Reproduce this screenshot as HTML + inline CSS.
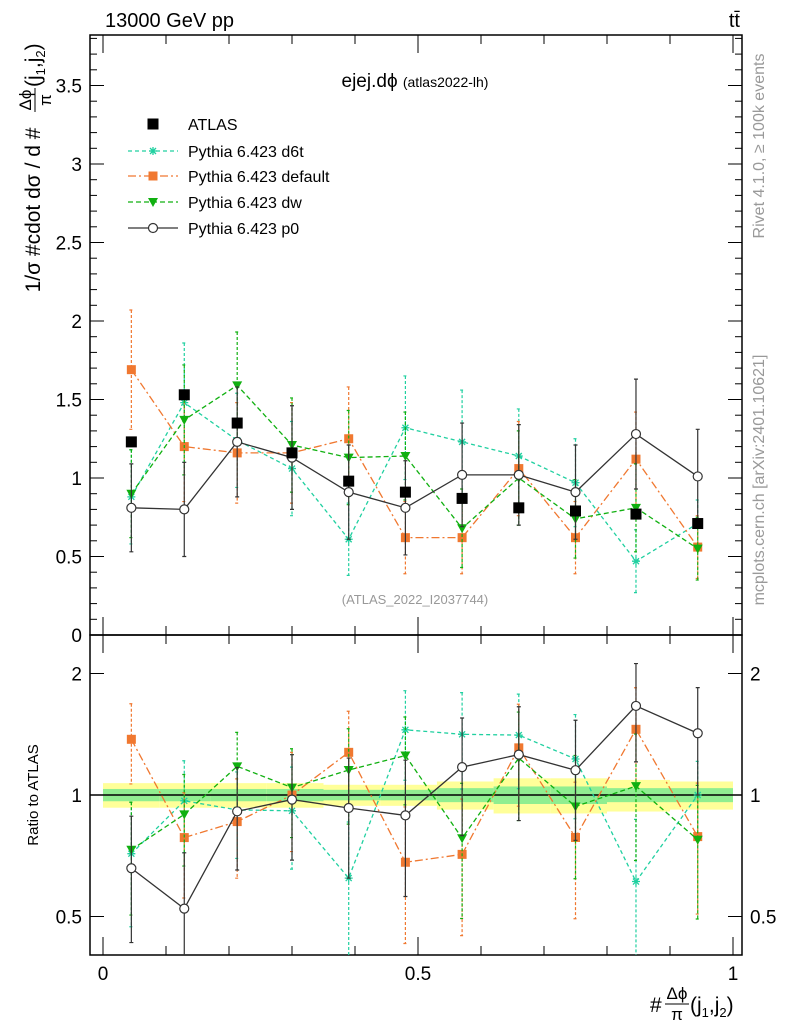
<!DOCTYPE html>
<html><head><meta charset="utf-8"><style>
body{margin:0;background:#fff;font-family:"Liberation Sans",sans-serif}
svg text{font-family:"Liberation Sans","DejaVu Sans",sans-serif}
</style></head><body>
<svg id="c" width="786" height="1024" xmlns="http://www.w3.org/2000/svg">
<defs>
<clipPath id="cm"><rect x="90" y="35" width="652" height="600"/></clipPath>
<clipPath id="cr"><rect x="90" y="635" width="652" height="320"/></clipPath>
</defs>
<text x="105" y="27" font-size="20">13000 GeV pp</text>
<text x="740" y="27" font-size="20" text-anchor="end">tt̄</text>
<text x="415" y="87" font-size="19" text-anchor="middle">ejej.dϕ <tspan font-size="14">(atlas2022-lh)</tspan></text>
<text x="415" y="604" font-size="13" fill="#999" text-anchor="middle">(ATLAS_2022_I2037744)</text>
<text transform="translate(764,146) rotate(-90)" font-size="16" fill="#999" text-anchor="middle">Rivet 4.1.0, ≥ 100k events</text>
<text transform="translate(764,480) rotate(-90)" font-size="16" fill="#999" text-anchor="middle">mcplots.cern.ch [arXiv:2401.10621]</text>
<g transform="translate(40,95) rotate(-90)">
<text x="-115" y="0" font-size="21" text-anchor="middle">1/σ #cdot dσ / d #</text>
<text x="-5" y="-9" font-size="17" text-anchor="middle">Δϕ</text>
<line x1="-17" x2="7" y1="-5" y2="-5" stroke="#000" stroke-width="1"/>
<text x="-5" y="11" font-size="17" text-anchor="middle">π</text>
<text x="8" y="0" font-size="21">(j<tspan font-size="13" dy="5">1</tspan><tspan dy="-5">,j</tspan><tspan font-size="13" dy="5">2</tspan><tspan dy="-5">)</tspan></text>
</g>
<text transform="translate(38,795) rotate(-90)" font-size="15" text-anchor="middle">Ratio to ATLAS</text>
<g>
<text x="650" y="1012" font-size="21">#</text>
<text x="677" y="999" font-size="17" text-anchor="middle">Δϕ</text>
<line x1="665" x2="689" y1="1004" y2="1004" stroke="#000" stroke-width="1"/>
<text x="677" y="1020" font-size="17" text-anchor="middle">π</text>
<text x="690" y="1012" font-size="21">(j<tspan font-size="13" dy="5">1</tspan><tspan dy="-5">,j</tspan><tspan font-size="13" dy="5">2</tspan><tspan dy="-5">)</tspan></text>
</g>
<g id="bands" clip-path="url(#cr)"></g>
<g id="axes"></g>
<g id="main" clip-path="url(#cm)"></g>
<g id="ratio" clip-path="url(#cr)"></g>
<g id="legend"></g>
</svg>
<script>
const xs=[0.045,0.129,0.213,0.30,0.39,0.48,0.57,0.66,0.75,0.846,0.944];
const edges=[0,0.09,0.17,0.26,0.35,0.44,0.53,0.62,0.71,0.80,0.90,1.0];
const atlas=[1.23,1.53,1.35,1.16,0.98,0.91,0.87,0.81,0.79,0.77,0.71];
const d6t=[0.88,1.48,1.24,1.06,0.61,1.32,1.23,1.14,0.97,0.47,0.71];
const d6tErr=[0.30,0.38,0.30,0.30,0.23,0.33,0.33,0.30,0.28,0.20,0.15];
const dflt=[1.69,1.20,1.16,1.16,1.25,0.62,0.62,1.06,0.62,1.12,0.56];
const dfltErr=[0.38,0.35,0.32,0.32,0.33,0.23,0.23,0.30,0.23,0.30,0.20];
const dw=[0.90,1.37,1.59,1.21,1.13,1.14,0.68,1.00,0.74,0.81,0.55];
const dwErr=[0.28,0.35,0.34,0.30,0.30,0.28,0.25,0.30,0.25,0.28,0.20];
const p0=[0.81,0.80,1.23,1.13,0.91,0.81,1.02,1.02,0.91,1.28,1.01];
const p0Err=[0.28,0.30,0.35,0.33,0.30,0.30,0.33,0.32,0.30,0.35,0.30];
const bandY=[0.07,0.07,0.07,0.07,0.06,0.06,0.08,0.10,0.10,0.09,0.08];
const bandG=[0.035,0.035,0.035,0.035,0.03,0.03,0.04,0.05,0.05,0.04,0.04];
const mainTicks=[0,0.5,1,1.5,2,2.5,3,3.5];
const ratioTicks=[0.5,1,2];
const xTicks=[0,0.5,1];
const NS='http://www.w3.org/2000/svg';
const X=v=>103+630*v, Y=v=>635-157*v, R=v=>795-121.5*Math.log2(v);
function el(t,a,p){const e=document.createElementNS(NS,t);for(const k in a)e.setAttribute(k,a[k]);document.getElementById(p).appendChild(e);return e;}
edges.slice(0,-1).forEach((e,i)=>{
 const b1=el('rect',{x:X(e),y:R(1+bandY[i]),width:X(edges[i+1])-X(e),height:R(1-bandY[i])-R(1+bandY[i]),fill:'#ffff99'},'bands');
 
 
 const b2=el('rect',{x:X(e),y:R(1+bandG[i]),width:X(edges[i+1])-X(e),height:R(1-bandG[i])-R(1+bandG[i]),fill:'#90ee90'},'bands');
 
 
});
[[35,600],[635,320]].forEach(([y,h])=>{const f=el('rect',{x:90,y:y,width:652,height:h,fill:'none',stroke:'#000','stroke-width':1.5},'axes');
 
 });
const one=el('line',{x1:90,x2:742,y1:R(1),y2:R(1),stroke:'#000','stroke-width':1.5},'axes');


mainTicks.forEach(t=>{
 el('line',{x1:90,x2:104,y1:Y(t),y2:Y(t),stroke:'#000'},'axes');
 el('line',{x1:728,x2:742,y1:Y(t),y2:Y(t),stroke:'#000'},'axes');
 const tx=el('text',{x:82,y:Y(t)+7,'font-size':19,'text-anchor':'end'},'axes');tx.textContent=t;
 
 
});
for(let t=0.1;t<3.85;t+=0.1){el('line',{x1:90,x2:97,y1:Y(t),y2:Y(t),stroke:'#000'},'axes');el('line',{x1:735,x2:742,y1:Y(t),y2:Y(t),stroke:'#000'},'axes');}
ratioTicks.forEach(t=>{
 el('line',{x1:90,x2:104,y1:R(t),y2:R(t),stroke:'#000'},'axes');
 el('line',{x1:728,x2:742,y1:R(t),y2:R(t),stroke:'#000'},'axes');
 const a=el('text',{x:82,y:R(t)+7,'font-size':19,'text-anchor':'end'},'axes');a.textContent=t;
 
 
 const b=el('text',{x:750,y:R(t)+7,'font-size':19},'axes');b.textContent=t;
 
 
});
xTicks.forEach(t=>{
 el('line',{x1:X(t),x2:X(t),y1:955,y2:937,stroke:'#000'},'axes');
 el('line',{x1:X(t),x2:X(t),y1:635,y2:617,stroke:'#000'},'axes');
 el('line',{x1:X(t),x2:X(t),y1:35,y2:53,stroke:'#000'},'axes');
 el('line',{x1:X(t),x2:X(t),y1:635,y2:653,stroke:'#000'},'axes');
 const a=el('text',{x:X(t),y:980,'font-size':19,'text-anchor':'middle'},'axes');a.textContent=t;
 
 
});
for(let t=0.1;t<1;t+=0.1){[[955,946],[635,626],[35,44],[635,644]].forEach(([a,b])=>el('line',{x1:X(t),x2:X(t),y1:a,y2:b,stroke:'#000'},'axes'));}
function marker(k,x,y,c,g){
 if(k==='sq'){return el('rect',{x:x-4.5,y:y-4.5,width:9,height:9,fill:c},g);}
 if(k==='bsq'){return el('rect',{x:x-5.5,y:y-5.5,width:11,height:11,fill:c},g);}
 if(k==='tri'){return el('path',{d:`M${x-5},${y-4}L${x+5},${y-4}L${x},${y+5}Z`,fill:c},g);}
 if(k==='circ'){return el('circle',{cx:x,cy:y,r:4.5,fill:'#fff',stroke:c,'stroke-width':1.2},g);}
 return el('path',{d:`M${x-4},${y}H${x+4}M${x},${y-4}V${y+4}M${x-3},${y-3}L${x+3},${y+3}M${x-3},${y+3}L${x+3},${y-3}`,stroke:c,'stroke-width':1.3},g);
}
const series=[
 {n:'d6t',v:d6t,e:d6tErr,c:'#20d0a0',m:'ast',d:'4,3',label:'Pythia 6.423 d6t'},
 {n:'default',v:dflt,e:dfltErr,c:'#f07830',m:'sq',d:'8,3,2,3',label:'Pythia 6.423 default'},
 {n:'dw',v:dw,e:dwErr,c:'#10b010',m:'tri',d:'5,3',label:'Pythia 6.423 dw'},
 {n:'p0',v:p0,e:p0Err,c:'#333',m:'circ',d:'',label:'Pythia 6.423 p0'}];
series.forEach(s=>{
 [['main',Y,s.v,s.e],['ratio',R,s.v.map((v,i)=>v/atlas[i]),s.e.map((e,i)=>e/atlas[i])]].forEach(([g,F,vals,errs])=>{
  const pts=xs.map((x,i)=>X(x)+','+F(vals[i])).join(' ');
  const pl=el('polyline',{points:pts,fill:'none',stroke:s.c,'stroke-width':1.3,'stroke-dasharray':s.d},g);
  
  
  xs.forEach((x,i)=>{
   const lo=Math.max(vals[i]-errs[i],0.01);
   const eb=el('path',{d:`M${X(x)},${F(vals[i]+errs[i])}V${F(lo)}M${X(x)-2},${F(vals[i]+errs[i])}h4M${X(x)-2},${F(lo)}h4`,stroke:s.c,'stroke-width':1.2,'stroke-dasharray':s.d?'3,2':''},g);
   
   
   const m=marker(s.m,X(x),F(vals[i]),s.c,g);
   
   
  });
 });
});
xs.forEach((x,i)=>{
 const m=marker('bsq',X(x),Y(atlas[i]),'#000','main');
 
 
});
const ly=[124,151,176,202,228];
const lm=marker('bsq',153,ly[0],'#000','legend');


const lt=el('text',{x:188,y:ly[0]+6,'font-size':16},'legend');lt.textContent='ATLAS';


series.forEach((s,i)=>{
 const y=ly[i+1];
 el('line',{x1:128,x2:178,y1:y,y2:y,stroke:s.c,'stroke-width':1.3,'stroke-dasharray':s.d},'legend');
 marker(s.m,153,y,s.c,'legend');
 const t=el('text',{x:188,y:y+6,'font-size':16},'legend');t.textContent=s.label;
 
 
});
</script>
</body></html>
